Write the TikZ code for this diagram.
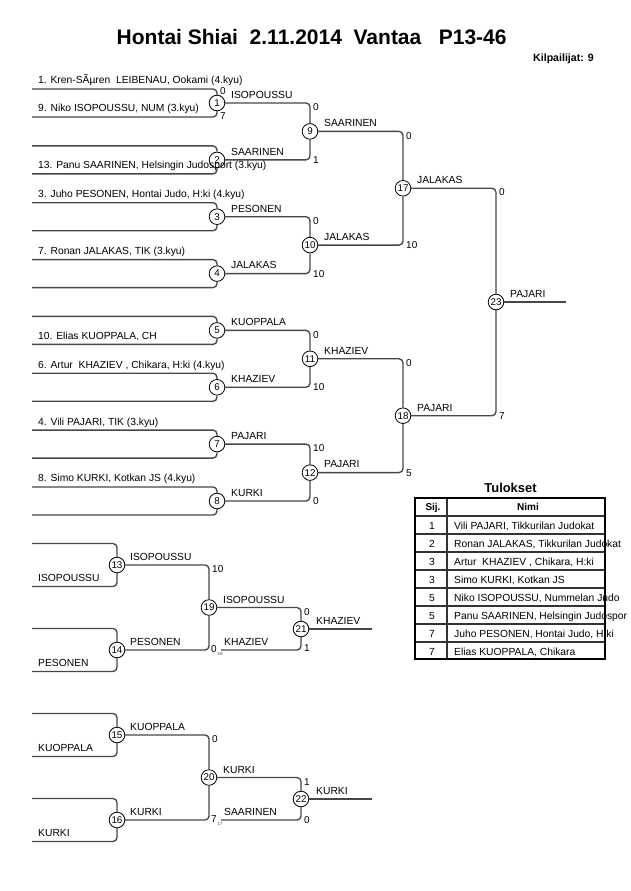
\documentclass[tikz,border=0pt]{standalone}
\usepackage{fontspec}
\setmainfont{Liberation Sans}
\newcommand\myfs[1]{\fontsize{#1}{#1}\selectfont}
\tikzset{
  br/.style={draw=black!72, line width=1.35pt, rounded corners=4pt},
  circ/.style={circle, draw=black, line width=0.8pt, fill=white, minimum size=15.6pt, inner sep=0pt, font=\myfs{9.8}},
  nm/.style={anchor=base west, inner sep=0pt, font=\myfs{10.3}},
  sc/.style={inner sep=0pt, font=\myfs{10}},
  sct/.style={sc, anchor=north west},
  scb/.style={sc, anchor=base west},
  tiny/.style={anchor=base west, inner sep=0pt, font=\myfs{4.5}, text=black!70},
  tline/.style={draw=black!80, line width=1.2pt},
}
\begin{document}
\begin{tikzpicture}[x=1pt,y=-1pt]
\useasboundingbox (0,0) rectangle (630,891);
% title
\node[anchor=base west, inner sep=0pt, font=\myfs{21}\bfseries] (title) at (116.5,45) {Hontai Shiai\ \ 2.11.2014\ \ Vantaa\ \ \ P13-46};
\node[anchor=base west, inner sep=0pt, font=\myfs{10.6}\bfseries] (count) at (533,61.5) {Kilpailijat: 9};

% ---- main bracket, round 1
\foreach \i/\c in {1/103,2/159.9,3/216.7,4/273.6,5/330.4,6/387.3,7/444.1,8/501}{
  \node[circ] (m\i) at (217,\c) {\i};
  \coordinate (a\i) at (32,\c-14);
  \coordinate (b\i) at (32,\c+14);
  \draw[br] (a\i) -| (m\i.north);
  \draw[br] (b\i) -| (m\i.south);
}
% round 2, 3, final
\node[circ] (m9) at (310,131.4) {9};
\node[circ] (m10) at (310,245.1) {10};
\node[circ] (m11) at (310,358.8) {11};
\node[circ] (m12) at (310,472.6) {12};
\node[circ] (m17) at (403,188.3) {17};
\node[circ] (m18) at (403,415.7) {18};
\node[circ] (m23) at (496,302) {23};
\coordinate (fin) at (566,302);
\draw[br] (m1.east) -| (m9.north);
\draw[br] (m2.east) -| (m9.south);
\draw[br] (m3.east) -| (m10.north);
\draw[br] (m4.east) -| (m10.south);
\draw[br] (m5.east) -| (m11.north);
\draw[br] (m6.east) -| (m11.south);
\draw[br] (m7.east) -| (m12.north);
\draw[br] (m8.east) -| (m12.south);
\draw[br] (m9.east) -| (m17.north);
\draw[br] (m10.east) -| (m17.south);
\draw[br] (m11.east) -| (m18.north);
\draw[br] (m12.east) -| (m18.south);
\draw[br] (m17.east) -| (m23.north);
\draw[br] (m18.east) -| (m23.south);
\draw[br] (m23.east) -- (fin);

% competitor names
\node[nm] (n1) at (38,83.3) {1. Kren-SÃµren\ \ LEIBENAU, Ookami (4.kyu)};
\node[nm] (n9) at (38,111.7) {9. Niko ISOPOUSSU, NUM (3.kyu)};
\node[nm] (n13) at (38,168.3) {13. Panu SAARINEN, Helsingin Judosport (3.kyu)};
\node[nm] (n3) at (38,197.5) {3. Juho PESONEN, Hontai Judo, H:ki (4.kyu)};
\node[nm] (n7) at (38,254.4) {7. Ronan JALAKAS, TIK (3.kyu)};
\node[nm] (n10) at (38,339.3) {10. Elias KUOPPALA, CH};
\node[nm] (n6) at (38,368.2) {6. Artur\ \ KHAZIEV , Chikara, H:ki (4.kyu)};
\node[nm] (n4) at (38,425) {4. Vili PAJARI, TIK (3.kyu)};
\node[nm] (n8) at (38,481.9) {8. Simo KURKI, Kotkan JS (4.kyu)};

% winners labels
\node[nm] (w1) at (231,98.3) {ISOPOUSSU};
\node[nm] (w2) at (231,155.2) {SAARINEN};
\node[nm] (w3) at (231,212) {PESONEN};
\node[nm] (w4) at (231,268.9) {JALAKAS};
\node[nm] (w5) at (231,325.7) {KUOPPALA};
\node[nm] (w6) at (231,382.6) {KHAZIEV};
\node[nm] (w7) at (231,439.4) {PAJARI};
\node[nm] (w8) at (231,496.3) {KURKI};
\node[nm] (w9) at (324,126.7) {SAARINEN};
\node[nm] (w10) at (324,240.4) {JALAKAS};
\node[nm] (w11) at (324,354.1) {KHAZIEV};
\node[nm] (w12) at (324,467.9) {PAJARI};
\node[nm] (w17) at (417,183.6) {JALAKAS};
\node[nm] (w18) at (417,411) {PAJARI};
\node[nm] (w23) at (510,297.3) {PAJARI};

% scores
\node[scb] (s1a) at (220,94) {0};
\node[scb] (s1b) at (220,119) {7};
\node[sct] (s9a) at (313,103.5) {0};
\node[scb] (s9b) at (313,163.4) {1};
\node[sct] (s10a) at (313,217.2) {0};
\node[scb] (s10b) at (313,277.1) {10};
\node[sct] (s11a) at (313,330.9) {0};
\node[scb] (s11b) at (313,390.8) {10};
\node[sct] (s12a) at (313,444.6) {10};
\node[scb] (s12b) at (313,504.5) {0};
\node[sct] (s17a) at (406,131.9) {0};
\node[scb] (s17b) at (406,248.6) {10};
\node[sct] (s18a) at (406,359.3) {0};
\node[scb] (s18b) at (406,476.1) {5};
\node[sct] (s23a) at (499,188.8) {0};
\node[scb] (s23b) at (499,419.2) {7};

% ---- repechage
\foreach \i/\c in {13/565,14/650,15/735,16/820}{
  \node[circ] (m\i) at (117,\c) {\i};
  \coordinate (a\i) at (32,\c-21.5);
  \coordinate (b\i) at (32,\c+21.5);
  \draw[br] (a\i) -| (m\i.north);
  \draw[br] (b\i) -| (m\i.south);
}
\node[circ] (m19) at (209,607.5) {19};
\node[circ] (m20) at (209,777.5) {20};
\node[circ] (m21) at (301,629) {21};
\node[circ] (m22) at (301,799) {22};
\coordinate (k18) at (221,650);
\coordinate (k17) at (221,820);
\coordinate (fin21) at (372,629);
\coordinate (fin22) at (372,799);
\draw[br] (m13.east) -| (m19.north);
\draw[br] (m14.east) -| (m19.south);
\draw[br] (m15.east) -| (m20.north);
\draw[br] (m16.east) -| (m20.south);
\draw[br] (m19.east) -| (m21.north);
\draw[br] (k18) -| (m21.south);
\draw[br] (m20.east) -| (m22.north);
\draw[br] (k17) -| (m22.south);
\draw[br] (m21.east) -- (fin21);
\draw[br] (m22.east) -- (fin22);

\node[nm] (r13) at (38,581.5) {ISOPOUSSU};
\node[nm] (r14) at (38,666.5) {PESONEN};
\node[nm] (r15) at (38,751.5) {KUOPPALA};
\node[nm] (r16) at (38,836.5) {KURKI};
\node[nm] (rw13) at (130,560.5) {ISOPOUSSU};
\node[nm] (rw14) at (130,645.5) {PESONEN};
\node[nm] (rw15) at (130,730.5) {KUOPPALA};
\node[nm] (rw16) at (130,815.5) {KURKI};
\node[nm] (rw19) at (223,603) {ISOPOUSSU};
\node[nm] (rk18) at (224,645.5) {KHAZIEV};
\node[nm] (rw21) at (316,624.5) {KHAZIEV};
\node[nm] (rw20) at (223,773) {KURKI};
\node[nm] (rk17) at (224,815.5) {SAARINEN};
\node[nm] (rw22) at (316,794.5) {KURKI};

\node[sct] (s19a) at (212,565.5) {10};
\node[scb] (s19b) at (211,652.5) {0};
\node[tiny] (t18) at (217.5,655) {18};
\node[sct] (s20a) at (212,735.5) {0};
\node[scb] (s20b) at (211,822.5) {7};
\node[tiny] (t17) at (217.5,825) {17};
\node[sct] (s21a) at (304,608) {0};
\node[scb] (s21b) at (304,651.5) {1};
\node[sct] (s22a) at (304,778) {1};
\node[scb] (s22b) at (304,823) {0};

% ---- results table
\node[anchor=base, inner sep=0pt, font=\myfs{12.9}\bfseries] (tul) at (510.5,492.5) {Tulokset};
\foreach \y in {516,534,552,570,588,606,624,642}{
  \draw[tline] (415,\y) -- (605,\y);
}
\draw[tline] (447,498) -- (447,659);
\draw[line width=2.4pt] (415,498) rectangle (605,659);
\node[anchor=base, inner sep=0pt, font=\myfs{10}\bfseries] (hs) at (433,510.5) {Sij.};
\node[anchor=base, inner sep=0pt, font=\myfs{10}\bfseries] (hn) at (528,510.5) {Nimi};
\foreach \k/\r/\t in {0/1/{Vili PAJARI, Tikkurilan Judokat},
  1/2/{Ronan JALAKAS, Tikkurilan Judokat},
  2/3/{Artur\ \ KHAZIEV , Chikara, H:ki},
  3/3/{Simo KURKI, Kotkan JS},
  4/5/{Niko ISOPOUSSU, Nummelan Judo},
  5/5/{Panu SAARINEN, Helsingin Judospor},
  6/7/{Juho PESONEN, Hontai Judo, H:ki},
  7/7/{Elias KUOPPALA, Chikara}}{
  \node[anchor=base, inner sep=0pt, font=\myfs{10.3}] (rr\k) at (432,529+18*\k) {\r};
  \node[nm] (rt\k) at (454,529+18*\k) {\t};
}
\end{tikzpicture}
\end{document}
